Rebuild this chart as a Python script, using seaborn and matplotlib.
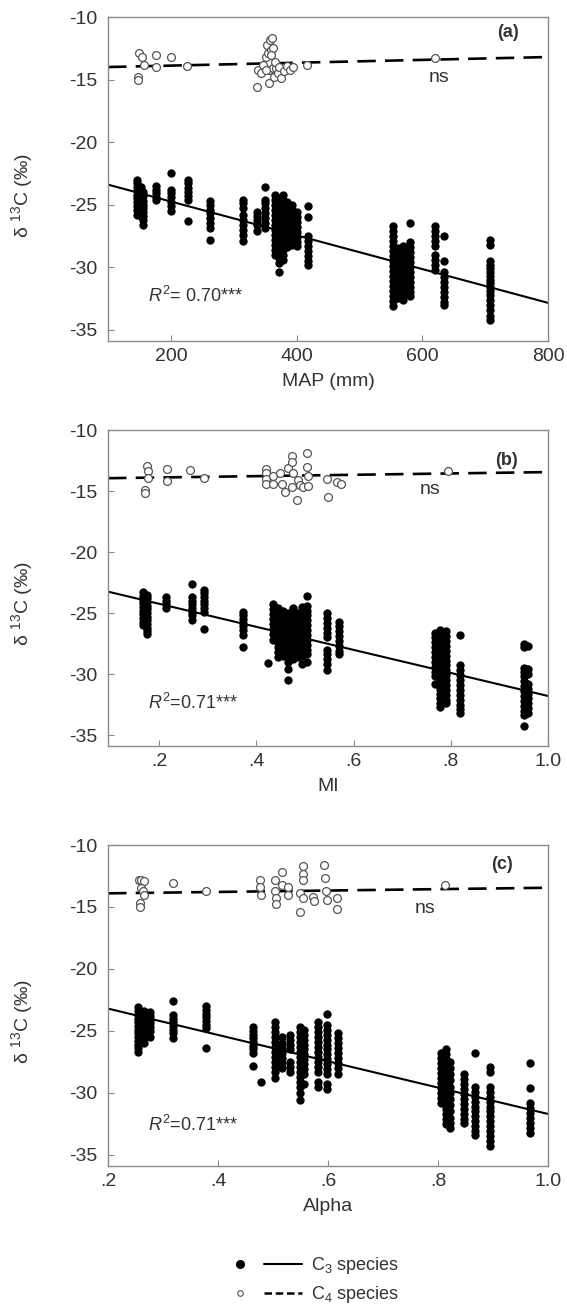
import numpy as np
import pandas as pd
import matplotlib
matplotlib.use("Agg")
import matplotlib.pyplot as plt
from matplotlib.lines import Line2D
from matplotlib.legend_handler import HandlerTuple
import seaborn as sns

# ---------------- data ----------------
# Panel (a): MAP (mm)
a_c3_x = [146, 152, 156, 177, 201, 228, 263, 315, 337, 350, 366, 372, 378, 384, 392, 400, 418,
          554, 562, 570, 580, 620, 635, 708]
a_c3_y = [
    [-23.0, -23.3, -23.6, -23.9, -24.2, -24.5, -24.8, -25.1, -25.4, -25.8],
    [-23.6, -24.4, -25.2, -25.9],
    [-24.0, -24.3, -24.7, -25.0, -25.3, -25.6, -25.9, -26.2, -26.6],
    [-23.5, -23.8, -24.1, -24.4, -24.6],
    [-22.5, -23.8, -24.1, -24.4, -24.8, -25.1, -25.5],
    [-23.0, -23.3, -23.7, -24.0, -24.3, -24.6, -26.3],
    [-24.7, -25.0, -25.4, -25.7, -26.1, -26.5, -26.9, -27.8],
    [-24.6, -24.9, -25.3, -25.8, -26.2, -26.6, -27.0, -27.4, -27.9],
    [-25.6, -25.9, -26.2, -26.6, -27.1],
    [-23.6, -24.6, -24.9, -25.3, -25.7, -26.1, -26.5, -26.9],
    [-24.2, -24.6, -25.0, -25.4, -25.8, -26.2, -26.6, -27.0, -27.4, -27.8, -28.2, -28.6, -29.0],
    [-24.5, -24.9, -25.3, -25.7, -26.1, -26.5, -26.9, -27.3, -27.7, -28.1, -28.5, -28.9, -29.3, -29.7, -30.4],
    [-24.2, -24.6, -25.0, -25.4, -25.8, -26.2, -26.6, -27.0, -27.4, -27.8, -28.2, -28.6, -29.0, -29.4],
    [-24.8, -25.2, -25.6, -26.0, -26.4, -26.8, -27.2, -27.6, -28.0, -28.4],
    [-25.0, -25.4, -25.8, -26.2, -26.6, -27.0, -27.4, -27.8, -28.2],
    [-25.6, -26.0, -26.4, -26.8, -27.2, -27.6, -28.0, -28.3],
    [-25.1, -26.0, -27.5, -27.9, -28.3, -28.7, -29.1, -29.5, -29.8],
    [-26.7, -27.1, -27.5, -27.9, -28.3, -28.7, -29.1, -29.5, -29.9, -30.3, -30.7, -31.1, -31.5, -31.9, -32.3, -32.7, -33.1],
    [-28.5, -28.9, -29.3, -29.7, -30.1, -30.5, -30.9, -31.3, -31.7, -32.1, -32.5],
    [-28.3, -28.7, -29.1, -29.5, -29.9, -30.3, -30.7, -31.1, -31.5, -31.9, -32.3, -32.6],
    [-26.5, -28.0, -28.4, -28.8, -29.2, -29.6, -30.0, -30.4, -30.8, -31.2, -31.6, -32.0, -32.3],
    [-26.7, -27.1, -27.5, -27.9, -28.3, -29.0, -29.4, -29.8, -30.2],
    [-27.5, -29.5, -30.4, -30.8, -31.2, -31.6, -32.0, -32.4, -32.8, -33.0],
    [-27.8, -28.2, -29.5, -29.8, -30.1, -30.4, -30.7, -31.0, -31.3, -31.6, -31.9, -32.2, -32.6, -33.0, -33.4, -33.9, -34.2],
]
a_c4_x = [150, 154, 148, 148, 158, 176, 177, 200, 226,
          337, 339, 344, 347, 351, 353, 354, 356, 357, 359, 361, 362, 356, 362, 364, 367, 370, 351,
          360, 366, 372, 375, 380, 385, 390, 395, 417, 621]
a_c4_y = [-12.9, -13.2, -14.8, -15.0, -13.8, -13.0, -14.0, -13.2, -13.9,
          -15.6, -14.2, -14.5, -13.8, -13.2, -12.2, -12.9, -14.2, -11.8, -12.6, -11.7, -12.5, -15.3, -14.1, -14.8, -14.1, -14.5, -14.2,
          -13.0, -13.6, -14.0, -14.9, -14.3, -13.9, -14.2, -14.0, -13.8, -13.3]
a_fit_x = [100, 800]
a_c3_fit = [-23.4, -32.85]
a_c4_fit = [-14.0, -13.2]

# Panel (b): MI
b_c3_x = [0.168, 0.176, 0.214, 0.267, 0.292, 0.373, 0.424, 0.435, 0.445, 0.455, 0.465, 0.475,
          0.485, 0.495, 0.505, 0.545, 0.570, 0.768, 0.778, 0.790, 0.819, 0.951, 0.958]
b_c3_y = [
    [-23.3, -23.6, -23.9, -24.2, -24.5, -24.8, -25.1, -25.4, -25.7, -26.0],
    [-23.5, -23.8, -24.1, -24.4, -24.7, -25.0, -25.3, -25.6, -25.9, -26.2, -26.5, -26.7],
    [-23.7, -24.0, -24.3, -24.6],
    [-22.6, -23.7, -24.0, -24.3, -24.6, -24.9, -25.2, -25.6],
    [-23.1, -23.4, -23.7, -24.0, -24.3, -24.6, -24.9, -26.3],
    [-24.9, -25.2, -25.5, -25.8, -26.1, -26.4, -26.8, -27.8],
    [-29.1],
    [-24.3, -24.7, -25.1, -25.5, -25.9, -26.3, -26.7, -27.2],
    [-24.6, -25.0, -25.4, -25.8, -26.2, -26.6, -27.0, -27.4, -27.8, -28.2, -28.6],
    [-24.8, -25.2, -25.6, -26.0, -26.4, -26.8, -27.2, -27.6, -28.0, -28.5],
    [-25.0, -25.4, -25.8, -26.2, -26.6, -27.0, -27.4, -27.8, -28.2, -28.6, -29.0, -29.6, -30.5],
    [-24.6, -25.0, -25.4, -25.8, -26.2, -26.6, -27.0, -27.4, -27.8, -28.2, -28.8],
    [-25.0, -25.4, -25.8, -26.2, -26.6, -27.0, -27.4, -27.8, -28.2, -28.6],
    [-24.5, -24.9, -25.3, -25.7, -26.1, -26.5, -26.9, -27.3, -27.7, -28.1, -28.5, -29.2],
    [-23.6, -24.4, -24.8, -25.2, -25.6, -26.0, -26.4, -26.8, -27.2, -27.6, -28.0, -28.4, -29.0],
    [-25.0, -25.4, -25.8, -26.2, -26.6, -27.0, -28.0, -28.4, -28.8, -29.2, -29.7],
    [-25.7, -26.1, -26.5, -26.9, -27.3, -27.7, -28.1, -28.4],
    [-26.6, -27.0, -27.4, -27.8, -28.2, -28.6, -29.0, -29.4, -29.8, -30.2, -30.8],
    [-26.4, -26.8, -27.2, -27.6, -28.0, -28.4, -28.8, -29.2, -29.6, -30.0, -30.4, -30.8, -31.2, -31.6, -32.0, -32.4, -32.7],
    [-26.5, -26.9, -27.3, -27.7, -28.1, -28.5, -28.9, -29.3, -29.7, -30.1, -30.5, -30.9, -31.3, -31.7, -32.1, -32.4],
    [-26.8, -29.3, -29.7, -30.1, -30.5, -30.9, -31.3, -31.7, -32.1, -32.5, -32.9, -33.2],
    [-27.5, -27.8, -29.5, -29.8, -30.2, -30.6, -31.0, -31.4, -31.8, -32.2, -32.6, -33.0, -33.4, -34.3],
    [-27.7, -29.6, -30.0, -30.8, -31.2, -31.6, -32.0, -32.4, -32.8, -33.2],
]
b_c4_x = [0.175, 0.178, 0.177, 0.172, 0.172, 0.216, 0.216, 0.264, 0.292,
          0.421, 0.421, 0.421, 0.421, 0.435, 0.435, 0.449, 0.452, 0.459, 0.466, 0.473, 0.473, 0.473,
          0.476, 0.483, 0.486, 0.490, 0.497, 0.504, 0.504, 0.507, 0.507, 0.545, 0.548, 0.567, 0.575, 0.794]
b_c4_y = [-12.95, -13.4, -13.96, -14.9, -15.2, -13.2, -14.2, -13.3, -13.96,
          -13.2, -13.5, -14.0, -14.4, -13.8, -14.4, -13.5, -14.4, -15.1, -13.1, -12.1, -12.6, -14.7,
          -13.5, -15.7, -14.1, -14.5, -14.7, -11.9, -13.0, -13.8, -14.6, -14.0, -15.5, -14.3, -14.4, -13.4]
b_fit_x = [0.095, 1.0]
b_c3_fit = [-23.25, -31.8]
b_c4_fit = [-13.95, -13.45]

# Panel (c): Alpha
c_c3_x = [0.255, 0.265, 0.276, 0.319, 0.378, 0.464, 0.478, 0.504, 0.516, 0.530, 0.549, 0.556,
          0.582, 0.598, 0.618, 0.805, 0.815, 0.822, 0.848, 0.868, 0.895, 0.967]
c_c3_y = [
    [-23.1, -23.4, -23.7, -24.0, -24.3, -24.6, -24.9, -25.2, -25.5, -25.8, -26.1, -26.4, -26.7],
    [-23.4, -23.7, -24.0, -24.3, -24.6, -24.9, -25.2, -25.6, -26.0],
    [-23.5, -23.8, -24.1, -24.4, -24.7, -25.0, -25.5],
    [-22.6, -23.7, -24.0, -24.3, -24.6, -24.9, -25.2, -25.6],
    [-23.0, -23.3, -23.6, -23.9, -24.2, -24.5, -24.8, -26.4],
    [-24.7, -25.0, -25.3, -25.6, -25.9, -26.2, -26.5, -26.8, -27.8],
    [-29.1],
    [-24.3, -24.7, -25.1, -25.5, -25.9, -26.3, -26.7, -27.1, -27.5, -27.9, -28.3, -28.8],
    [-25.5, -26.0, -26.4, -26.8, -27.2, -27.6, -28.0],
    [-25.3, -25.7, -26.1, -26.5, -27.5, -27.9, -28.3],
    [-24.7, -25.1, -25.5, -25.9, -26.3, -26.7, -27.1, -27.5, -27.9, -28.3, -28.7, -29.1, -29.5, -30.0, -30.6],
    [-24.9, -25.3, -25.7, -26.1, -26.5, -26.9, -27.3, -27.7, -28.1, -28.5, -29.3],
    [-24.3, -24.7, -25.1, -25.5, -25.9, -26.3, -26.7, -27.1, -27.5, -27.9, -28.3, -29.1, -29.5],
    [-23.6, -24.5, -24.9, -25.3, -25.7, -26.1, -26.5, -26.9, -27.3, -27.7, -28.1, -28.5, -29.3, -29.7],
    [-25.2, -25.6, -26.0, -26.4, -26.8, -27.2, -27.6, -28.0, -28.5],
    [-26.8, -27.2, -27.6, -28.0, -28.4, -28.8, -29.2, -29.6, -30.0, -30.4, -30.8],
    [-26.5, -26.9, -27.3, -27.7, -28.1, -28.5, -28.9, -29.3, -29.7, -30.1, -30.5, -30.9, -31.3, -31.7, -32.1, -32.5],
    [-27.5, -28.0, -28.5, -29.0, -29.5, -30.0, -30.5, -31.0, -31.5, -32.0, -32.4, -32.8],
    [-28.5, -28.9, -29.3, -29.7, -30.1, -30.5, -30.9, -31.3, -31.7, -32.1, -32.4],
    [-26.8, -29.5, -29.9, -30.3, -30.7, -31.1, -31.5, -31.9, -32.3, -32.7, -33.1, -33.4],
    [-27.9, -28.3, -29.5, -29.9, -30.3, -30.7, -31.1, -31.5, -31.9, -32.3, -32.7, -33.1, -33.5, -33.9, -34.3],
    [-27.6, -29.6, -30.8, -31.2, -31.6, -32.0, -32.4, -32.8, -33.2],
]
c_c4_x = [0.257, 0.260, 0.266, 0.260, 0.263, 0.266, 0.258, 0.258, 0.319, 0.378,
          0.476, 0.476, 0.478, 0.504, 0.504, 0.505, 0.505, 0.516, 0.516, 0.528, 0.528,
          0.549, 0.549, 0.554, 0.554, 0.554, 0.554, 0.573, 0.575, 0.593, 0.594, 0.596, 0.598,
          0.616, 0.617, 0.812]
c_c4_y = [-12.8, -12.8, -12.9, -13.5, -13.7, -14.0, -14.7, -15.0, -13.1, -13.7,
          -12.8, -13.4, -14.0, -12.8, -13.7, -14.3, -14.8, -12.2, -13.2, -13.4, -14.0,
          -13.9, -15.4, -11.7, -12.3, -12.8, -14.3, -14.2, -14.5, -11.6, -12.7, -13.7, -14.4,
          -14.3, -15.2, -13.2]
c_fit_x = [0.2, 1.0]
c_c3_fit = [-23.2, -31.7]
c_c4_fit = [-13.9, -13.45]

xlabels = ["MAP (mm)", "MI", "Alpha"]
panel_tags = ["(a)", "(b)", "(c)"]
r2_texts = ["$R^2$= 0.70***", "$R^2$=0.71***", "$R^2$=0.71***"]

# ---------------- style ----------------
sns.set_style("ticks")
plt.rcParams["font.family"] = ["Liberation Sans", "DejaVu Sans"]
plt.rcParams["mathtext.fontset"] = "custom"
plt.rcParams["mathtext.rm"] = "Liberation Sans"
plt.rcParams["mathtext.it"] = "Liberation Sans:italic"
plt.rcParams["mathtext.bf"] = "Liberation Sans:bold"

TXT = "#333333"
SPN = "#8a8a8a"

W, H = 567, 1304
fig = plt.figure(figsize=(W / 100, H / 100), dpi=100)


def box(top, bottom, left=108, right=548):
    return [left / W, 1 - bottom / H, (right - left) / W, (bottom - top) / H]


axes_boxes = [box(17, 341), box(430, 746), box(845, 1166)]


def cols_df(xs, ys):
    return pd.DataFrame({"x": [x for x, col in zip(xs, ys) for _ in col],
                         "y": [v for col in ys for v in col]})


panels = [
    dict(c3=cols_df(a_c3_x, a_c3_y), c4=pd.DataFrame({"x": a_c4_x, "y": a_c4_y}),
         fx=a_fit_x, f3=a_c3_fit, f4=a_c4_fit, xlim=(100, 800),
         xticks=[200, 400, 600, 800], xtl=["200", "400", "600", "800"],
         tag=(736, -11.2), ns=(626, -14.8), r2=(163, -32.3)),
    dict(c3=cols_df(b_c3_x, b_c3_y), c4=pd.DataFrame({"x": b_c4_x, "y": b_c4_y}),
         fx=b_fit_x, f3=b_c3_fit, f4=b_c4_fit, xlim=(0.095, 1.0),
         xticks=[0.2, 0.4, 0.6, 0.8, 1.0], xtl=[".2", ".4", ".6", ".8", "1.0"],
         tag=(0.914, -12.5), ns=(0.757, -14.9), r2=(0.177, -32.4)),
    dict(c3=cols_df(c_c3_x, c_c3_y), c4=pd.DataFrame({"x": c_c4_x, "y": c_c4_y}),
         fx=c_fit_x, f3=c_c3_fit, f4=c_c4_fit, xlim=(0.2, 1.0),
         xticks=[0.2, 0.4, 0.6, 0.8, 1.0], xtl=[".2", ".4", ".6", ".8", "1.0"],
         tag=(0.917, -11.6), ns=(0.776, -15.1), r2=(0.272, -32.6)),
]

for i, p in enumerate(panels):
    ax = fig.add_axes(axes_boxes[i])
    sns.lineplot(x=p["fx"], y=p["f3"], ax=ax, color="black", lw=1.5, zorder=2)
    sns.lineplot(x=p["fx"], y=p["f4"], ax=ax, color="black", lw=1.9,
                 dashes=False, linestyle=(0, (7, 3.5)), zorder=2)
    sns.scatterplot(data=p["c3"], x="x", y="y", ax=ax, color="black", s=36,
                    edgecolor="black", linewidth=0, zorder=3)
    sns.scatterplot(data=p["c4"], x="x", y="y", ax=ax, facecolor="white", s=32,
                    edgecolor="#555555", linewidth=0.9, zorder=4)
    ax.set_xlim(*p["xlim"])
    ax.set_ylim(-35.9, -10)
    ax.set_yticks([-10, -15, -20, -25, -30, -35])
    ax.set_yticklabels(["-10", "-15", "-20", "-25", "-30", "-35"])
    ax.set_xticks(p["xticks"])
    ax.set_xticklabels(p["xtl"])
    ax.tick_params(direction="in", length=4, width=0.8, color=SPN, labelcolor=TXT,
                   labelsize=14)
    ax.tick_params(axis="y", pad=8)
    ax.tick_params(axis="x", pad=5)
    for s in ax.spines.values():
        s.set_color(SPN)
        s.set_linewidth(1.0)
    ax.set_xlabel(xlabels[i], fontsize=14, color=TXT, labelpad=6)
    ax.set_ylabel("δ $^{13}$C (‰)", fontsize=14, color=TXT)
    ax.yaxis.set_label_coords(-0.165, 0.45)
    ax.text(*p["tag"], panel_tags[i], fontsize=13, fontweight="bold", color=TXT,
            ha="center", va="center")
    ax.text(*p["ns"], "ns", fontsize=14, color=TXT, ha="center", va="center")
    ax.text(*p["r2"], r2_texts[i], fontsize=13, color=TXT, ha="left", va="center")

h_dot = Line2D([], [], marker="o", color="black", linestyle="none", markersize=5.5)
h_solid = Line2D([], [], color="black", lw=1.5)
h_circ = Line2D([], [], marker="o", markerfacecolor="white", markeredgecolor="#555555",
                linestyle="none", markersize=4, markeredgewidth=0.8)
h_dash = Line2D([], [], color="black", lw=1.8, linestyle=(0, (3, 1.5)))
fig.legend(handles=[(h_dot, h_solid), (h_circ, h_dash)],
           labels=["C$_3$ species", "C$_4$ species"],
           handler_map={tuple: HandlerTuple(ndivide=None, pad=0.3)},
           loc="center", bbox_to_anchor=(310 / W, 1 - 1280 / H),
           frameon=False, handlelength=4.5, handletextpad=0.5,
           labelspacing=0.45, fontsize=13, labelcolor=TXT)

fig.savefig("out.png", dpi=100)
